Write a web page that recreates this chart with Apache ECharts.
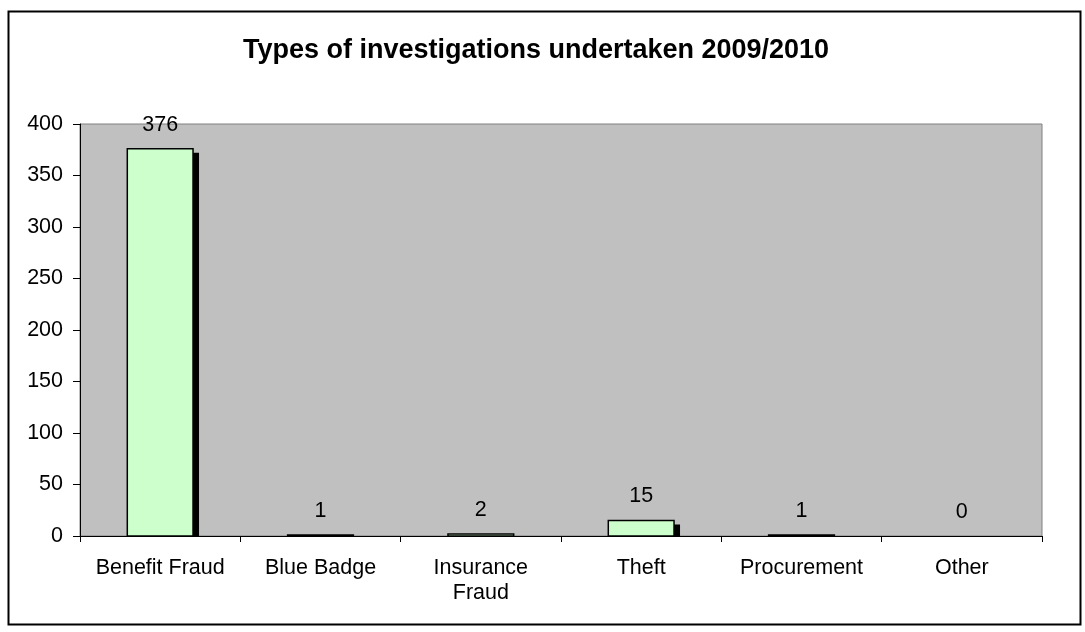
<!DOCTYPE html>
<html>
<head>
<meta charset="utf-8">
<script src="https://cdn.jsdelivr.net/npm/echarts@6/dist/echarts.min.js"></script>
<style>
html,body{margin:0;padding:0;background:#fff;}
#chart{width:1085px;height:632px;}
</style>
</head>
<body>
<div id="chart"></div>
<script>
const titleText = 'Types of investigations undertaken 2009/2010';
const categories = ['Benefit Fraud', 'Blue Badge', 'Insurance\nFraud', 'Theft', 'Procurement', 'Other'];
const values = [376, 1, 2, 15, 1, 0];
const yTicks = [0, 50, 100, 150, 200, 250, 300, 350, 400];

const chart = echarts.init(document.getElementById('chart'));
const FONT = 'Liberation Sans, Arial, sans-serif';
const FS = 21.5;

chart.setOption({
  animation: false,
  backgroundColor: '#ffffff',
  title: {
    text: titleText,
    left: 531, top: 32, textAlign: 'center',
    textStyle: {fontFamily: FONT, fontWeight: 'bold', fontSize: 27, color: '#000'}
  },
  graphic: [{
    type: 'rect', left: 6, top: 9, z: 100, silent: true,
    shape: {x: 0, y: 0, width: 1072, height: 613},
    style: {fill: 'none', stroke: '#000', lineWidth: 2}
  }],
  grid: {
    left: 80, right: 43, top: 124, bottom: 96,
    show: true, backgroundColor: '#C0C0C0', borderColor: '#808080', borderWidth: 1
  },
  xAxis: {
    type: 'category', data: categories, boundaryGap: true,
    axisLine: {lineStyle: {color: '#000', width: 1}},
    axisTick: {show: true, length: 6, inside: false, alignWithLabel: false, lineStyle: {color: '#000'}},
    axisLabel: {fontFamily: FONT, fontSize: FS, color: '#000', margin: 20, lineHeight: 25, interval: 0}
  },
  yAxis: {
    type: 'value', min: yTicks[0], max: yTicks[yTicks.length - 1], interval: 50,
    splitLine: {show: false},
    axisLine: {show: true, lineStyle: {color: '#000', width: 1}},
    axisTick: {show: true, length: 7, lineStyle: {color: '#000'}},
    axisLabel: {fontFamily: FONT, fontSize: FS, color: '#000', margin: 17}
  },
  series: [{
    type: 'custom',
    data: values.map((v, i) => [i, v]),
    encode: {x: 0, y: 1},
    clip: false,
    renderItem: function (params, api) {
      const idx = api.value(0), v = api.value(1);
      const top = api.coord([idx, v]);
      const base = api.coord([idx, 0]);
      const bw = api.size([1, 0])[0] * 0.41;
      const left = top[0] - bw / 2;
      const h = base[1] - top[1];
      const children = [];
      if (v > 0) {
        if (h > 5) {
          children.push({
            type: 'rect',
            shape: {x: left + 6, y: top[1] + 4, width: bw, height: h - 4},
            style: {fill: '#000'}
          });
        }
        children.push({
          type: 'rect',
          shape: {x: left, y: top[1], width: bw, height: h},
          style: {fill: '#CCFFCC', stroke: '#000', lineWidth: 1.5}
        });
      }
      children.push({
        type: 'text',
        style: {
          text: String(v), x: top[0], y: top[1] - 13,
          align: 'center', verticalAlign: 'bottom',
          font: FS + 'px ' + FONT, fill: '#000'
        }
      });
      return {type: 'group', children: children};
    }
  }]
});
</script>
</body>
</html>
